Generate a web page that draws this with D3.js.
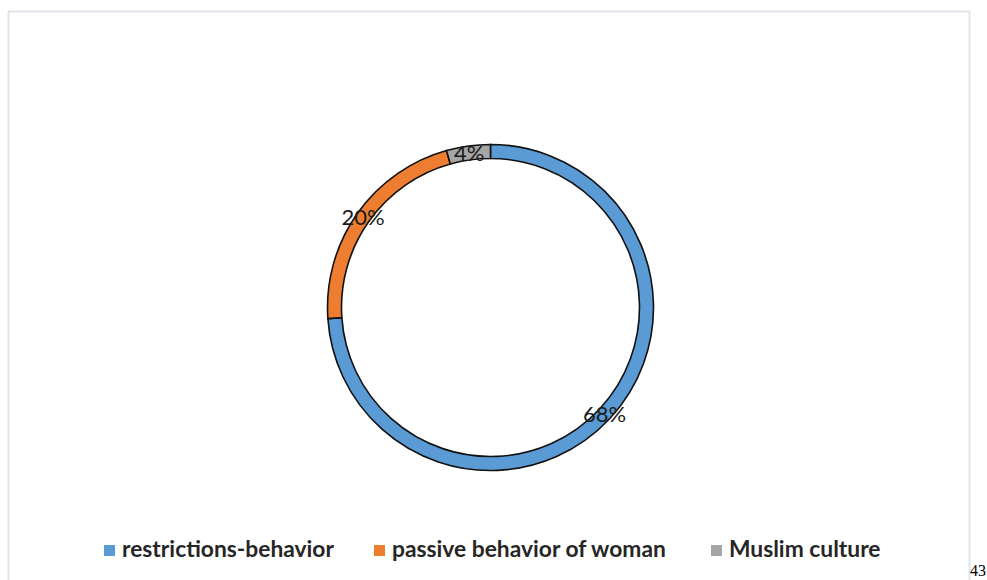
<!DOCTYPE html>
<html>
<head>
<meta charset="utf-8">
<script src="https://cdn.jsdelivr.net/npm/d3@7"></script>
<style>
body { margin: 0; background: #fff; }
svg { display: block; }
</style>
</head>
<body>
<div id="chart"></div>
<script>
var categories = ["restrictions-behavior", "passive behavior of woman", "Muslim culture"];
var values = [68, 20, 4];
var labels = ["68%", "20%", "4%"];
var colors = ["#5b9bd5", "#ed7d31", "#a5a5a5"];

var svgWidth = 987;
var svgHeight = 580;

var svg = d3.select("#chart")
	.append("svg")
	.attr("width", svgWidth)
	.attr("height", svgHeight);

// chart frame
svg.append("rect")
	.attr("x", 8.5)
	.attr("y", 11.5)
	.attr("width", 961)
	.attr("height", 600)
	.attr("fill", "none")
	.attr("stroke", "#dfe3ea")
	.attr("stroke-width", 2);

var cx = 490.5, cy = 307.5;
var outerR = 163, innerR = 149;

var pie = d3.pie().sort(null).value(d => d);
var arcs = pie(values);

var arc = d3.arc().innerRadius(innerR).outerRadius(outerR);
var labelArc = d3.arc().innerRadius((innerR + outerR) / 2).outerRadius((innerR + outerR) / 2);

var g = svg.append("g")
	.attr("transform", `translate(${cx}, ${cy})`);

g.selectAll("path")
	.data(arcs)
	.enter()
	.append("path")
	.attr("d", arc)
	.attr("fill", (d, i) => colors[i])
	.attr("stroke", "#111")
	.attr("stroke-width", 1.6);

g.selectAll("text")
	.data(arcs)
	.enter()
	.append("text")
	.attr("transform", d => `translate(${labelArc.centroid(d)})`)
	.attr("text-anchor", "middle")
	.attr("dy", "0.36em")
	.attr("font-family", "Lato, 'Open Sans', sans-serif")
	.attr("font-size", 22)
	.attr("fill", "#1a1a1a")
	.text((d, i) => labels[i]);

// legend
var legendX = [104, 374, 711];
var legend = svg.selectAll(".legend")
	.data(categories)
	.enter()
	.append("g")
	.attr("class", "legend")
	.attr("transform", (d, i) => `translate(${legendX[i]}, 545)`);

legend.append("rect")
	.attr("width", 11)
	.attr("height", 11)
	.attr("fill", (d, i) => colors[i]);

legend.append("text")
	.attr("x", 18)
	.attr("y", 12)
	.attr("font-family", "Lato, 'Open Sans', sans-serif")
	.attr("font-weight", "bold")
	.attr("font-size", 22.8)
	.attr("fill", "#262626")
	.text(d => d);

// page number fragment
svg.append("text")
	.attr("x", 986)
	.attr("y", 576)
	.attr("text-anchor", "end")
	.attr("font-family", "'Liberation Serif', serif")
	.attr("font-size", 16)
	.attr("fill", "#000")
	.text("43");
</script>
</body>
</html>
